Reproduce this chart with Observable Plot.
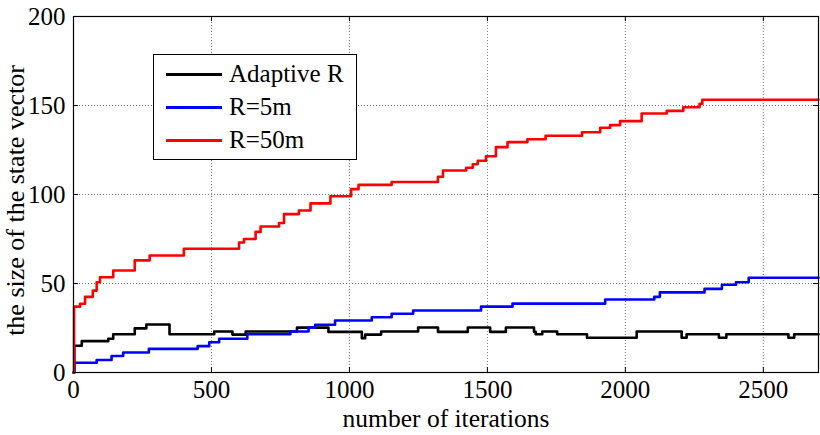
<!DOCTYPE html>
<html>
<head>
<meta charset="utf-8">
<script src="https://cdn.jsdelivr.net/npm/d3@7"></script>
<script src="https://cdn.jsdelivr.net/npm/@observablehq/plot@0.6"></script>
<style>
  html, body { margin: 0; padding: 0; background: #fff; }
  #wrap { position: relative; width: 820px; height: 435px; font-family: "Liberation Serif", "Times New Roman", serif; }
  #legend { position: absolute; left: 153px; top: 54px; width: 204px; height: 106px; border: 1px solid #000; background: #fff; box-sizing: border-box; }
  .item { position: absolute; left: 0; height: 30px; display: flex; align-items: center; font-size: 25px; color: #000; white-space: nowrap; }
  .swatch { width: 56px; height: 0; border-top: 3px solid; margin-left: 12px; margin-right: 7px; }
</style>
</head>
<body>
<div id="wrap"></div>
<script>
const seriesNames = ["Adaptive R", "R=5m", "R=50m"];
const seriesColors = ["#000000", "#0000ff", "#ff0000"];

const adaptiveR = [[0,0],[3,15],[30,17.6],[126,19],[144,21.5],[222,24.8],[264,27],[348,21.5],[510,23],[576,21.3],[624,23],[810,25.2],[924,22.8],[1045,19.3],[1057,21.3],[1115,23],[1249,25.3],[1321,22.8],[1429,25.3],[1510,22.8],[1567,25.3],[1669,22.8],[1675,21.5],[1699,23],[1753,21.5],[1861,19.5],[2041,23],[2204,19.5],[2222,21.5],[2339,19.5],[2366,21.5],[2591,19.5],[2612,21.5],[2700,21.5]];

const r5m = [[0,0],[3,5.5],[84,7],[138,9.3],[180,11.2],[273,13.3],[450,14.8],[492,17],[528,19],[630,21.5],[786,23],[852,25.2],[876,26.8],[948,29.2],[1081,31],[1153,33],[1231,34.8],[1477,37],[1591,38.7],[1927,41],[2105,42.5],[2125,45],[2287,47],[2350,49.3],[2401,50.7],[2447,53.2],[2700,53.2]];

const r50m = [[0,0],[2,37],[24,38.6],[42,42.5],[70,46],[84,50.7],[96,53.5],[144,57.3],[222,63],[276,65.7],[400,69.5],[600,73],[618,75],[660,79],[678,82],[745,84],[763,89],[817,91],[859,95],[931,99],[1006,103],[1033,105.4],[1153,107],[1321,110],[1339,113.5],[1423,115],[1447,117],[1465,119],[1495,121.5],[1531,126.6],[1573,129.4],[1645,131],[1711,133],[1843,135],[1909,137.5],[1945,139],[1981,141.2],[2059,145.5],[2150,147],[2210,149],[2269,151],[2279,153.2],[2700,153.2]];

const xTicks = [0, 500, 1000, 1500, 2000, 2500];
const yTicks = [0, 50, 100, 150, 200];
const xLabel = "number of iterations";
const yLabel = "the size of the state vector";

const allSeries = [adaptiveR, r5m, r50m];
const data = allSeries.flatMap((s, i) => s.map(([x, y]) => ({series: seriesNames[i], x, y})));

const innerH = 435 - 16 - 63;
const innerW = 820 - 73 - 2;

const chart = Plot.plot({
  width: 820,
  height: 435,
  marginLeft: 73,
  marginRight: 2,
  marginTop: 16,
  marginBottom: 63,
  style: { fontFamily: "'Liberation Serif', 'Times New Roman', serif", fontSize: "25px", color: "#000", background: "#fff" },
  x: { domain: [0, 2700] },
  y: { domain: [0, 200] },
  color: { domain: seriesNames, range: seriesColors },
  marks: [
    Plot.gridX(xTicks, { stroke: "#7a7a7a", strokeOpacity: 1, strokeDasharray: "1,2" }),
    Plot.gridY(yTicks, { stroke: "#7a7a7a", strokeOpacity: 1, strokeDasharray: "1,2" }),
    Plot.line(data, { x: "x", y: "y", z: "series", stroke: "series", curve: "step-after", strokeWidth: 2.6 }),
    Plot.frame({ stroke: "#000", strokeWidth: 1.2 }),
    Plot.tickX(xTicks, { x: d => d, insetTop: innerH - 5, stroke: "#000" }),
    Plot.tickX(xTicks, { x: d => d, insetBottom: innerH - 5, stroke: "#000" }),
    Plot.tickY(yTicks, { y: d => d, insetRight: innerW - 5, stroke: "#000" }),
    Plot.tickY(yTicks, { y: d => d, insetLeft: innerW - 5, stroke: "#000" }),
    Plot.axisX(xTicks, { tickSize: 0, tickPadding: 8, label: null, fontSize: 25, tickFormat: "d" }),
    Plot.axisY(yTicks, { tickSize: 0, tickPadding: 8, label: null, fontSize: 25, tickFormat: "d" }),
    Plot.text([xLabel], { text: d => d, frameAnchor: "bottom", textAnchor: "middle", lineAnchor: "middle", dy: 46, fontSize: 25.5 }),
    Plot.text([yLabel], { text: d => d, frameAnchor: "left", textAnchor: "middle", lineAnchor: "middle", dx: -58, dy: 6, rotate: -90, fontSize: 26 })
  ]
});

const wrap = document.getElementById("wrap");
wrap.appendChild(chart);

const legend = document.createElement("div");
legend.id = "legend";
seriesNames.forEach((name, i) => {
  const item = document.createElement("div");
  item.className = "item";
  item.style.top = (4 + i * 33) + "px";
  const sw = document.createElement("div");
  sw.className = "swatch";
  sw.style.borderTopColor = seriesColors[i];
  const label = document.createElement("span");
  label.textContent = name;
  item.appendChild(sw);
  item.appendChild(label);
  legend.appendChild(item);
});
wrap.appendChild(legend);
</script>
</body>
</html>
